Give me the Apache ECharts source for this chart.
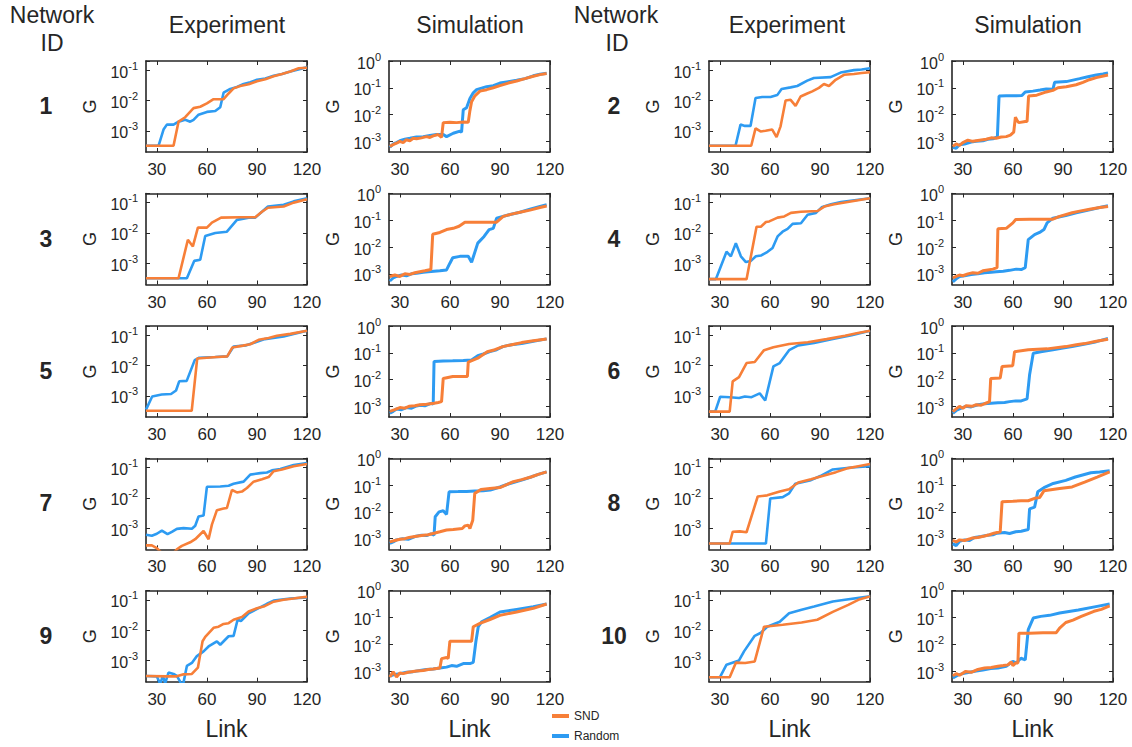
<!DOCTYPE html>
<html><head><meta charset="utf-8">
<script src="https://cdn.jsdelivr.net/npm/echarts@6/dist/echarts.min.js"></script>
<style>html,body{margin:0;padding:0;background:#fff}#c{width:1132px;height:747px}</style>
</head><body><div id="c"></div>
<script>
// ---- tick labels / categories ----
const X_TICKS = [30, 60, 90, 120];
const networkIds = ['1','2','3','4','5','6','7','8','9','10'];
const columnTitles = ['Experiment', 'Simulation', 'Experiment', 'Simulation'];
const seriesNames = ['SND', 'Random'];

// ---- data: [link, G] ----
const exp1Snd = [[23.5,3.2e-4],[40,3.2e-4],[43,2e-3],[47,2.8e-3],[52,5.6e-3],[56,6.2e-3],[60,8e-3],[64,1.1e-2],[70,1.1e-2],[73,1.7e-2],[76,2.5e-2],[80,3e-2],[85,3.4e-2],[90,4.3e-2],[95,5e-2],[100,6.3e-2],[105,7.5e-2],[110,9e-2],[115,0.115],[120,0.12]];
const exp1Rnd = [[23.5,3.2e-4],[31,3.2e-4],[34,1.1e-3],[36,1.6e-3],[40,1.6e-3],[43,2e-3],[47,2.3e-3],[50,2e-3],[52,2.3e-3],[55,3.4e-3],[60,4.2e-3],[65,4.5e-3],[68,6e-3],[70,1.8e-2],[74,2.4e-2],[78,2.8e-2],[82,3.5e-2],[86,4e-2],[90,4.8e-2],[95,5.3e-2],[100,6.5e-2],[105,7.5e-2],[110,9e-2],[116,0.11],[120,0.125]];
const sim1Snd = [[24,6.5e-4],[26,7.5e-4],[28,8.5e-4],[30,1e-3],[32,9e-4],[34,1.15e-3],[36,1.05e-3],[38,1.3e-3],[40,1.25e-3],[43,1.35e-3],[46,1.5e-3],[48,1.4e-3],[50,1.6e-3],[53,1.8e-3],[55,1.4e-3],[56,5e-3],[60,5.2e-3],[64,5e-3],[68,5.3e-3],[71,5.2e-3],[72,1.4e-2],[73,3e-2],[75,5e-2],[78,7.5e-2],[82,8.5e-2],[86,0.1],[90,0.12],[95,0.15],[100,0.18],[105,0.22],[110,0.27],[114,0.31],[118,0.34]];
const sim1Rnd = [[24,6e-4],[26,8e-4],[28,9e-4],[30,1.05e-3],[33,1.2e-3],[36,1.3e-3],[40,1.45e-3],[44,1.5e-3],[48,1.65e-3],[52,1.8e-3],[56,1.8e-3],[58,1.5e-3],[62,2e-3],[66,2.4e-3],[67,2.2e-3],[68,1.5e-2],[70,1.8e-2],[72,4e-2],[74,6.5e-2],[76,8.5e-2],[82,0.11],[86,0.12],[90,0.15],[95,0.17],[100,0.19],[105,0.22],[110,0.28],[114,0.32],[118,0.35]];

const exp2Snd = [[23.5,3.2e-4],[48.8,3.2e-4],[51.4,1.2e-3],[54.4,9.5e-4],[57.4,1e-3],[61.4,1.1e-3],[64,6.2e-4],[66.4,1.4e-3],[69.4,1e-2],[72.4,1.05e-2],[75.4,6.6e-3],[78.4,1.35e-2],[82.4,1.7e-2],[85.4,2e-2],[89.4,2.6e-2],[92.4,3.5e-2],[95.4,3e-2],[99.4,4.8e-2],[104.4,7e-2],[110.4,7.5e-2],[115,8e-2],[120,8.5e-2]];
const exp2Rnd = [[23.5,3.2e-4],[39.4,3.2e-4],[42.4,1.6e-3],[45,1.45e-3],[48.4,1.45e-3],[51.4,1.2e-2],[55.4,1.3e-2],[60.4,1.3e-2],[64.4,1.5e-2],[67,2.4e-2],[72.4,2.7e-2],[76.4,3e-2],[82.4,4.5e-2],[86.4,5.5e-2],[96.4,5.9e-2],[102.4,8.3e-2],[110.4,0.1],[115,0.105],[120,0.115]];
const sim2Snd = [[24,6.5e-4],[26,8e-4],[28,7e-4],[30,9e-4],[33,1.1e-3],[36,1e-3],[40,1.1e-3],[44,1.2e-3],[47,1.35e-3],[50,1.3e-3],[53,1.45e-3],[56,1.5e-3],[58.5,1.7e-3],[60.5,2.2e-3],[61.5,8e-3],[62.5,6e-3],[63.5,5e-3],[67.4,5.5e-3],[68.5,5.5e-3],[69.4,4.9e-2],[74.3,5.3e-2],[80,7e-2],[84,8e-2],[87,0.1],[92,0.11],[97.9,0.13],[102,0.16],[105.8,0.2],[110,0.24],[117,0.3]];
const sim2Rnd = [[24,6e-4],[26,5.5e-4],[28,7.5e-4],[31,8e-4],[35,9.5e-4],[38,1e-3],[42,1.05e-3],[45,1.2e-3],[48,1.25e-3],[50.7,1.45e-3],[51.7,4.9e-2],[56,5e-2],[60,5e-2],[65.4,5.1e-2],[67.4,7e-2],[72,7.5e-2],[76.3,8.2e-2],[80,9e-2],[84,8.8e-2],[85,0.16],[92,0.17],[100,0.22],[105,0.26],[110,0.3],[114,0.33],[117,0.36]];

const exp3Snd = [[23.5,3.2e-4],[43,3.2e-4],[48.6,6e-3],[51.6,3.6e-3],[54.6,1.5e-2],[60,1.5e-2],[63,2.2e-2],[68.5,3.2e-2],[80,3.3e-2],[89,3.3e-2],[93,5e-2],[96.6,6.8e-2],[106,7.5e-2],[112,0.1],[120,0.13]];
const exp3Rnd = [[23.5,3.2e-4],[48,3.2e-4],[52.4,1.2e-3],[56,1.3e-3],[59,8e-3],[65,1e-2],[72,1.1e-2],[78,2.7e-2],[85,3.2e-2],[89,3.2e-2],[93,5e-2],[96.6,7.5e-2],[106,8.5e-2],[112,0.11],[120,0.14]];
const sim3Snd = [[24,8e-4],[27,9e-4],[30,8e-4],[33,1e-3],[36,9.5e-4],[39,1.1e-3],[42,1.2e-3],[45,1.3e-3],[48.6,1.45e-3],[49.7,3e-2],[54,3.5e-2],[58,4.5e-2],[62,5e-2],[65.5,6e-2],[69,8.5e-2],[80,8.5e-2],[88,8.5e-2],[92,0.14],[97,0.17],[102,0.2],[108,0.24],[114,0.3],[118,0.34]];
const sim3Rnd = [[24,5.4e-4],[26,7e-4],[28,8e-4],[31,9e-4],[34,8.5e-4],[37,1e-3],[40,1.05e-3],[44,1.15e-3],[47,1.2e-3],[50.5,1.25e-3],[54,1.3e-3],[58,1.4e-3],[60,2.5e-3],[61.7,4e-3],[66,4.5e-3],[71,4.5e-3],[73,2.7e-3],[76.7,1.4e-2],[80.5,2.5e-2],[83.5,4.5e-2],[86,5e-2],[88,0.12],[95.5,0.16],[102,0.2],[108,0.26],[114,0.33],[118,0.38]];

const exp4Snd = [[23.5,3e-4],[46,3e-4],[52,1.6e-2],[54.6,1.6e-2],[57.6,2.3e-2],[59.6,2.4e-2],[64.6,3.2e-2],[68.6,3.5e-2],[72.6,4.6e-2],[78.6,5e-2],[88.6,5.3e-2],[92.6,7.4e-2],[98.6,8.8e-2],[106.6,0.105],[120,0.14]];
const exp4Rnd = [[23.5,3e-4],[27.6,3e-4],[34,2.4e-3],[36.6,1.7e-3],[39.6,4.6e-3],[42.6,1.7e-3],[45.6,1.1e-3],[48.6,1.2e-3],[51.6,1.7e-3],[54.6,1.8e-3],[58.6,2.4e-3],[61.6,3.2e-3],[64.6,7.7e-3],[67.6,1.1e-2],[70.6,1.36e-2],[73.6,2e-2],[78.6,2.1e-2],[82.6,4e-2],[87.6,4.6e-2],[91,7e-2],[96.6,8.8e-2],[102.6,0.105],[120,0.14]];
const sim4Snd = [[24,7e-4],[26,8e-4],[28,9e-4],[30,8.5e-4],[33,1e-3],[36,1.1e-3],[39,1.05e-3],[42,1.3e-3],[45,1.4e-3],[48,1.5e-3],[50.5,1.7e-3],[51,4.8e-2],[56,5e-2],[60,8e-2],[61.7,0.107],[70,0.11],[78,0.11],[84,0.11],[88,0.14],[95.5,0.19],[100,0.22],[106,0.26],[112,0.3],[117,0.33]];
const sim4Rnd = [[24,5e-4],[26,6.5e-4],[28,8e-4],[31,8.5e-4],[35,9.5e-4],[39,1e-3],[43,1.1e-3],[47,1.15e-3],[50,1.2e-3],[54.2,1.25e-3],[58,1.35e-3],[62,1.5e-3],[65,1.45e-3],[67.4,1.7e-3],[69.2,1.9e-2],[73,2.9e-2],[76,3.5e-2],[78.6,4.5e-2],[80.5,8e-2],[84,0.12],[91.7,0.15],[98,0.19],[106.7,0.25],[112,0.3],[117,0.35]];

const exp5Snd = [[23.5,3.2e-4],[50.9,3.2e-4],[54.2,1.7e-2],[60,1.8e-2],[66,1.9e-2],[72.2,2e-2],[75.2,3.9e-2],[81.6,4.5e-2],[86,5e-2],[91,7e-2],[97,8e-2],[102,9.5e-2],[110,0.11],[120,0.14]];
const exp5Rnd = [[23.5,3.5e-4],[27.2,9.5e-4],[32.9,1.1e-3],[38.5,1.15e-3],[41.5,1.5e-3],[43.4,3e-3],[47.9,3.1e-3],[52.7,1.5e-2],[55.4,1.8e-2],[65,1.9e-2],[72.2,2e-2],[76,4.2e-2],[83.5,4.6e-2],[90,6e-2],[94.7,7.4e-2],[106,9e-2],[112,0.11],[120,0.14]];
const sim5Snd = [[24,6.5e-4],[27,7.5e-4],[30,9e-4],[33,8.5e-4],[35.5,1e-3],[39,1.05e-3],[42,1.15e-3],[46,1.2e-3],[50.5,1.3e-3],[53,1.4e-3],[55,1.5e-3],[56,1.1e-2],[61.7,1.3e-2],[66,1.3e-2],[70.5,1.3e-2],[71,4.5e-2],[76.7,6.3e-2],[82.4,0.11],[87,0.13],[91.7,0.17],[97,0.2],[103,0.24],[110,0.28],[118,0.33]];
const sim5Rnd = [[24,5.5e-4],[26,6.5e-4],[28,8e-4],[31,7.5e-4],[34,9e-4],[37,8.5e-4],[39.3,1e-3],[42,1.1e-3],[45,1.05e-3],[48.6,1.3e-3],[50,1.2e-3],[50.5,4.7e-2],[56,4.9e-2],[61.7,5e-2],[68,5.2e-2],[73,5.4e-2],[76.7,7.8e-2],[80,9e-2],[84,0.11],[88,0.13],[91.7,0.17],[97,0.2],[103,0.22],[110,0.27],[118,0.33]];

const exp6Snd = [[23.5,3e-4],[35.9,3e-4],[37.7,3e-3],[41.5,4.1e-3],[46,1.2e-2],[50.9,1.3e-2],[56.5,3.2e-2],[62.1,4e-2],[71.5,5.1e-2],[82.7,5.8e-2],[94,7.4e-2],[105,9.5e-2],[112,0.115],[120,0.14]];
const exp6Rnd = [[23.5,3e-4],[27.2,3e-4],[30.2,9.3e-4],[36,9e-4],[41.5,8.5e-4],[45,9.5e-4],[49,9e-4],[53.9,1.2e-3],[57.2,7e-4],[62.1,9.3e-3],[65.9,1.2e-2],[71.5,3.2e-2],[77,4.6e-2],[86.5,5.5e-2],[97.7,7.5e-2],[109,0.1],[120,0.14]];
const sim6Snd = [[24,6.3e-4],[26,8e-4],[28,1e-3],[30,8.5e-4],[32,1.05e-3],[35.5,1e-3],[38,1.15e-3],[41,1.1e-3],[43,1.25e-3],[46,1.5e-3],[46.7,1.1e-2],[52.4,1.15e-2],[53.5,3.1e-2],[59.9,3.3e-2],[61,0.11],[69.2,0.13],[80.5,0.14],[91.7,0.17],[98,0.2],[103,0.22],[110,0.27],[117,0.32]];
const sim6Rnd = [[24,5.5e-4],[26,7e-4],[28,8e-4],[31.7,1e-3],[35,9.5e-4],[39,1.15e-3],[43,1.25e-3],[47,1.3e-3],[51,1.35e-3],[55,1.4e-3],[58,1.5e-3],[61.7,1.6e-3],[65,1.6e-3],[68.5,1.9e-3],[70,1.5e-2],[72.2,9.6e-2],[76.7,0.11],[84,0.13],[90,0.15],[95.5,0.17],[104.9,0.22],[110,0.26],[117,0.34]];

const exp7Snd = [[23.5,2.7e-4],[27,2.7e-4],[30,2.2e-4],[33,1.5e-4],[37,1.3e-4],[40,1.5e-4],[42,2e-4],[45,2.6e-4],[50,3.4e-4],[53,4.3e-4],[58,8e-4],[61,4.3e-4],[63,1.3e-3],[66,3.9e-3],[70,4.4e-3],[72,4.6e-3],[75,1.8e-2],[78,1.5e-2],[81,1.6e-2],[84,2.1e-2],[88,3.4e-2],[93,4.1e-2],[97,4.8e-2],[100,7.5e-2],[105,8.5e-2],[112,0.11],[120,0.13]];
const exp7Rnd = [[23.5,6e-4],[27,5.6e-4],[30,6.5e-4],[33,8.3e-4],[36.4,6.3e-4],[39,7.5e-4],[42,9.4e-4],[46,1e-3],[51,9.5e-4],[53,1.2e-3],[55,2.4e-3],[58,2.6e-3],[60,2.3e-2],[68,2.35e-2],[73,2.5e-2],[76,2.9e-2],[82,3.4e-2],[86,5.8e-2],[92,6.5e-2],[96,6.8e-2],[99,8e-2],[104,8.8e-2],[112,0.12],[120,0.14]];
const sim7Snd = [[24,7.6e-4],[27,8.5e-4],[30,9.5e-4],[33,1e-3],[35.5,1.1e-3],[39,1.2e-3],[43,1.3e-3],[47,1.4e-3],[50.5,1.6e-3],[54,1.8e-3],[58,2.1e-3],[62,2.2e-3],[67.4,2.4e-3],[69,3e-3],[71,3.2e-3],[72,2.4e-3],[73.7,4.9e-3],[74.9,4.9e-2],[78.6,6.9e-2],[84,7.5e-2],[90,8.1e-2],[97.4,0.13],[103,0.16],[108.6,0.2],[113,0.25],[118,0.31]];
const sim7Rnd = [[24,6.6e-4],[26,7.5e-4],[28,9e-4],[31.7,1e-3],[35,9.5e-4],[39,1.2e-3],[43,1.35e-3],[46,1.3e-3],[48.6,1.5e-3],[50.5,1.35e-3],[51.2,6.6e-3],[53.5,1e-2],[56,1.1e-2],[58,8e-3],[59.5,5.6e-2],[65,5.7e-2],[70,5.8e-2],[74.9,6e-2],[80,6.2e-2],[84.2,6.5e-2],[90,8.5e-2],[95,0.11],[99,0.13],[104,0.16],[108.6,0.2],[113,0.25],[118,0.31]];

const exp8Snd = [[23.5,3.1e-4],[35.9,3.1e-4],[37.7,7.6e-4],[42,7.8e-4],[46,7.3e-4],[52.7,1.1e-2],[58.4,1.2e-2],[65.9,1.6e-2],[71.5,1.9e-2],[77,3.2e-2],[84.6,4.1e-2],[92,5.3e-2],[99.6,7e-2],[107,9.5e-2],[113,0.11],[120,0.13]];
const exp8Rnd = [[23.5,3.1e-4],[57.6,3.1e-4],[60.2,9.5e-3],[67.7,1.05e-2],[71.5,1.4e-2],[75.2,2.9e-2],[84.6,3.8e-2],[90.2,5.2e-2],[97.7,8.6e-2],[109,0.1],[120,0.11]];
const sim8Snd = [[24,8.7e-4],[26,7.5e-4],[28,9e-4],[31,8.5e-4],[35.5,1.05e-3],[39,1.1e-3],[43,1.25e-3],[46,1.4e-3],[48.6,1.6e-3],[52.4,1.8e-3],[53.5,2.4e-2],[60,2.5e-2],[65,2.6e-2],[69.2,2.6e-2],[73,3.2e-2],[76,3.4e-2],[78.6,6.1e-2],[88,7.5e-2],[95.5,8.5e-2],[103,0.13],[110.5,0.2],[118,0.31]];
const sim8Rnd = [[24,6.5e-4],[26,5.5e-4],[28,8e-4],[31,9e-4],[34,8.5e-4],[37,1.1e-3],[41,1.2e-3],[45,1.35e-3],[48,1.4e-3],[50.5,1.6e-3],[55,1.7e-3],[58,1.55e-3],[61.7,1.8e-3],[65,1.9e-3],[69.2,2.2e-3],[70,1.3e-2],[73,1.5e-2],[74.9,5.6e-2],[78.6,8e-2],[84.2,0.115],[91.7,0.15],[97.4,0.2],[106.7,0.29],[112,0.31],[118,0.34]];

const exp9Snd = [[23.5,3.1e-4],[36,3e-4],[42,3e-4],[46,3.5e-4],[51,3.6e-4],[54.6,5.8e-4],[57.4,4.3e-3],[59,6e-3],[64,1.2e-2],[67,1.3e-2],[70,1.6e-2],[73,1.7e-2],[76,2.2e-2],[81,2.7e-2],[85,4.1e-2],[90,5.3e-2],[94,6e-2],[100,8.7e-2],[106,0.1],[112,0.11],[116,0.12],[120,0.125]];
const exp9Rnd = [[23.5,3.1e-4],[30,3e-4],[32,1.7e-4],[33.6,3.1e-4],[35,1.8e-4],[37,4e-4],[40,3.6e-4],[42,3.1e-4],[45,1.6e-4],[46,1.9e-4],[48,6.6e-4],[51,8.3e-4],[54,1.4e-3],[58,2e-3],[61,2.9e-3],[66,4.3e-3],[68,3.3e-3],[73,6.3e-3],[76,6.5e-3],[78.4,2.2e-2],[80.4,2e-2],[85,3.6e-2],[91,5.3e-2],[96,7.4e-2],[100,9.4e-2],[110,0.11],[120,0.12]];
const sim9Snd = [[24,6e-4],[26,9.3e-4],[28,6e-4],[30,8.5e-4],[32,8e-4],[35,9e-4],[40,1e-3],[44,1.05e-3],[47,1.15e-3],[50,1.2e-3],[54,1.3e-3],[55,2.9e-3],[58,3.2e-3],[59,3e-3],[60,1.3e-2],[65,1.3e-2],[70,1.3e-2],[73,1.3e-2],[74,4.5e-2],[78,6e-2],[84,8.4e-2],[90,0.12],[100,0.16],[110,0.22],[118,0.32]];
const sim9Rnd = [[24,6.5e-4],[27,7.5e-4],[30,8e-4],[34,9e-4],[38,9.5e-4],[42,1.05e-3],[46,1.15e-3],[50,1.2e-3],[54,1.3e-3],[58,1.4e-3],[61,1.6e-3],[64,1.5e-3],[68,1.9e-3],[72,1.9e-3],[74,2.1e-3],[75.6,1.3e-2],[77,4.5e-2],[79,6.9e-2],[84,0.1],[90,0.16],[100,0.2],[110,0.25],[118,0.32]];

const exp10Snd = [[23.5,2.8e-4],[35.9,2.8e-4],[39.6,8.5e-4],[45.2,8.3e-4],[50.9,9.3e-4],[56.5,1.3e-2],[67.7,1.5e-2],[79,1.8e-2],[88.4,2.2e-2],[97.7,4e-2],[107,6.8e-2],[113,0.1],[120,0.13]];
const exp10Rnd = [[23.5,2.8e-4],[30,2.8e-4],[34,7.3e-4],[41.5,1e-3],[44.5,2e-3],[50.9,6.5e-3],[54.6,8.2e-3],[58.4,1.3e-2],[65.9,1.9e-2],[71.5,3.6e-2],[79,4.7e-2],[86.5,6e-2],[97.7,8.8e-2],[105,0.1],[120,0.13]];
const sim10Snd = [[24,6.6e-4],[26,8e-4],[28,7e-4],[31.7,9.7e-4],[35,9e-4],[39,1.15e-3],[43,1.3e-3],[47,1.35e-3],[51,1.5e-3],[54.2,1.6e-3],[57,1.7e-3],[59,2.2e-3],[60,1.6e-3],[61.7,2e-3],[63,2e-3],[63.6,2.6e-2],[70,2.6e-2],[78,2.7e-2],[86,2.7e-2],[88,4e-2],[91.7,6.5e-2],[96,8e-2],[101,0.11],[108.6,0.17],[113,0.2],[118,0.27]];
const sim10Rnd = [[24,5.5e-4],[27,7e-4],[30,8e-4],[34,9e-4],[38,1e-3],[42,1.1e-3],[46.7,1.25e-3],[51,1.3e-3],[56,1.5e-3],[59.9,2.3e-3],[62,2e-3],[64.8,3e-3],[67.4,2.6e-3],[69.2,3.5e-2],[72.2,9.5e-2],[76.7,0.11],[82,0.12],[88,0.146],[99.2,0.19],[110.5,0.26],[118,0.32]];

const expSnd = [exp1Snd,exp2Snd,exp3Snd,exp4Snd,exp5Snd,exp6Snd,exp7Snd,exp8Snd,exp9Snd,exp10Snd];
const expRnd = [exp1Rnd,exp2Rnd,exp3Rnd,exp4Rnd,exp5Rnd,exp6Rnd,exp7Rnd,exp8Rnd,exp9Rnd,exp10Rnd];
const simSnd = [sim1Snd,sim2Snd,sim3Snd,sim4Snd,sim5Snd,sim6Snd,sim7Snd,sim8Snd,sim9Snd,sim10Snd];
const simRnd = [sim1Rnd,sim2Rnd,sim3Rnd,sim4Rnd,sim5Rnd,sim6Rnd,sim7Rnd,sim8Rnd,sim9Rnd,sim10Rnd];

// ---- styling / layout ----
const FONT = '"Liberation Sans", Arial, Helvetica, sans-serif';
const INK = '#262626';
const ORANGE = '#F77F38';
const BLUE = '#2D9BF2';
const X_MIN = 23.5, X_MAX = 120;
const EXP_Y = [2e-4, 0.2], SIM_Y = [4e-4, 1];
const colLeft = [146, 389, 709, 952];
const rowTop = [61, 193.5, 326, 458.3, 590.7];
const W = 161, H = 91;

const grids = [], xAxes = [], yAxes = [], series = [];
const lineStyleAxis = {color: INK, width: 1.6};
const tickStyle = {color: INK, width: 1};

function powLabel(v) {
  const e = Math.log10(v), r = Math.round(e);
  if (Math.abs(e - r) > 1e-6) return '';
  return '{b|10}{s|' + r + '}';
}
const rich = {
  b: {fontSize: 16, fontFamily: FONT, color: INK, lineHeight: 20, verticalAlign: 'bottom'},
  s: {fontSize: 11, fontFamily: FONT, color: INK, lineHeight: 11, verticalAlign: 'top'}
};

function addPanel(left, top, yr, snd, rnd, showLink, simLine) {
  const gi = grids.length;
  grids.push({left: left, top: top, width: W, height: H, show: false});
  const xBase = {type: 'value', gridIndex: gi, min: X_MIN, max: X_MAX,
    axisLine: {show: true, onZero: false, lineStyle: lineStyleAxis},
    axisTick: {show: true, inside: true, length: 4, customValues: X_TICKS, lineStyle: tickStyle},
    splitLine: {show: false}};
  xAxes.push(Object.assign({}, xBase, {position: 'bottom',
    axisLabel: {customValues: X_TICKS, fontSize: 17, color: INK, fontFamily: FONT, margin: 9},
    name: showLink ? 'Link' : '', nameLocation: 'middle', nameGap: 36,
    nameTextStyle: {fontSize: 23, color: INK, fontFamily: FONT}}));
  xAxes.push(Object.assign({}, xBase, {position: 'top', axisLabel: {show: false}}));
  const yBase = {type: 'log', logBase: 10, gridIndex: gi, min: yr[0], max: yr[1],
    axisLine: {show: true, onZero: false, lineStyle: lineStyleAxis},
    axisTick: {show: true, inside: true, length: 4, lineStyle: tickStyle},
    splitLine: {show: false}};
  yAxes.push(Object.assign({}, yBase, {position: 'left',
    axisLabel: {formatter: powLabel, rich: rich, margin: 8, showMinLabel: false},
    name: 'G', nameLocation: 'middle', nameGap: 47,
    nameTextStyle: {fontSize: 18, color: INK, fontFamily: FONT}}));
  yAxes.push(Object.assign({}, yBase, {position: 'right', axisLabel: {show: false}}));
  const lw = simLine ? 3 : 2.6;
  series.push({type: 'line', name: seriesNames[1], xAxisIndex: 2 * gi, yAxisIndex: 2 * gi,
    data: rnd, showSymbol: false, symbol: 'none', clip: true, silent: true,
    lineStyle: {color: BLUE, width: lw}, itemStyle: {color: BLUE}});
  series.push({type: 'line', name: seriesNames[0], xAxisIndex: 2 * gi, yAxisIndex: 2 * gi,
    data: snd, showSymbol: false, symbol: 'none', clip: true, silent: true,
    lineStyle: {color: ORANGE, width: lw}, itemStyle: {color: ORANGE}});
}

for (let i = 0; i < 10; i++) {
  const row = Math.floor(i / 2), side = i % 2;
  const last = row === 4;
  addPanel(colLeft[side * 2], rowTop[row], EXP_Y, expSnd[i], expRnd[i], last, false);
  addPanel(colLeft[side * 2 + 1], rowTop[row], SIM_Y, simSnd[i], simRnd[i], last, true);
}

const graphics = [];
function txt(t, x, y, size, weight) {
  graphics.push({type: 'text', x: x, y: y, silent: true,
    style: {text: t, fill: INK, fontSize: size, fontFamily: FONT, fontWeight: weight || 'normal',
      align: 'center', verticalAlign: 'middle'}});
}
txt('Network', 52, 15, 23); txt('ID', 52, 43, 23);
txt('Network', 616, 15, 23); txt('ID', 617, 43, 23);
const titleX = [227, 470, 787, 1028];
columnTitles.forEach((t, k) => txt(t, titleX[k], 25, 23));
networkIds.forEach((id, i) => {
  const row = Math.floor(i / 2), side = i % 2;
  txt(id, side ? 614 : 46, rowTop[row] + 45, 23, 'bold');
});

const legendBase = {orient: 'vertical', left: 552, icon: 'rect', itemWidth: 17, itemHeight: 4,
  padding: 0, textStyle: {fontSize: 12, color: INK, fontFamily: FONT}};
const chart = echarts.init(document.getElementById('c'), null, {renderer: 'svg'});
chart.setOption({
  animation: false,
  backgroundColor: '#fff',
  grid: grids, xAxis: xAxes, yAxis: yAxes, series: series,
  graphic: graphics,
  legend: [
    Object.assign({}, legendBase, {data: [seriesNames[0]], top: 710}),
    Object.assign({}, legendBase, {data: [seriesNames[1]], top: 730})
  ]
});
</script></body></html>
